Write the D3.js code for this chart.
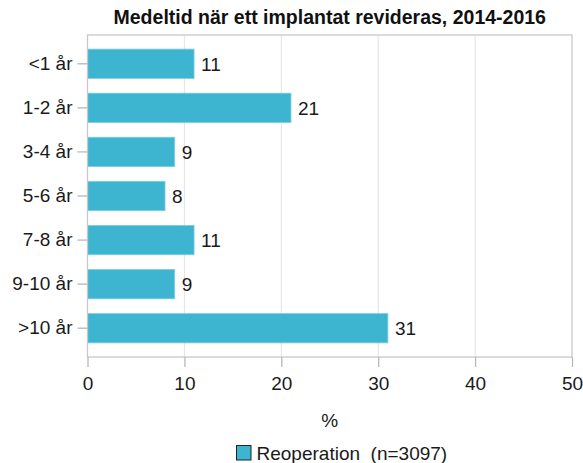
<!DOCTYPE html>
<html><head><meta charset="utf-8">
<script src="https://cdn.jsdelivr.net/npm/d3@7"></script>
<style>body{margin:0;background:#fff}svg{font-family:Arial,"Liberation Sans",sans-serif}</style>
</head><body><svg id="c" width="583" height="463"></svg>
<script>
const categories = ["<1 år","1-2 år","3-4 år","5-6 år","7-8 år","9-10 år",">10 år"];
const values = [11,21,9,8,11,9,31];
const xTicks = [0,10,20,30,40,50];
const title = "Medeltid när ett implantat revideras, 2014-2016";
const xLabel = "%";
const legendLabel = "Reoperation  (n=3097)";

const svg = d3.select("#c");
const L=87.5, R=572, T=35, B=357;
const FS = 19;
const FF = "Arial,'Liberation Sans',sans-serif";
const x = d3.scaleLinear().domain([0,50]).range([L,R]);
const y = d3.scaleBand().domain(categories).range([T,B]).paddingInner(0.333).paddingOuter(0.32);
const barColor = "#3db5d0";

// gridlines
svg.append("g").selectAll("line").data(xTicks.slice(1,-1)).join("line")
  .attr("x1",d=>x(d)).attr("x2",d=>x(d)).attr("y1",T).attr("y2",B)
  .attr("stroke","#e3e3e3").attr("stroke-width",1);

// bars
svg.append("g").selectAll("rect").data(values).join("rect")
  .attr("x",x(0)).attr("y",(d,i)=>y(categories[i]))
  .attr("width",d=>x(d)-x(0)).attr("height",y.bandwidth())
  .attr("fill",barColor).attr("stroke","#7fd0e2").attr("stroke-width",0.8);

// value labels
svg.append("g").selectAll("text").data(values).join("text")
  .attr("x",d=>x(d)+7).attr("y",(d,i)=>y(categories[i])+y.bandwidth()/2)
  .attr("dy","0.36em").attr("font-size",FS).attr("fill","#1a1a1a").text(d=>d);

// frame
svg.append("rect").attr("x",L).attr("y",T).attr("width",R-L).attr("height",B-T)
  .attr("fill","none").attr("stroke","#c8c8c8").attr("stroke-width",1.3);

// x axis
const xa = svg.append("g").attr("transform",`translate(0,${B})`)
  .call(d3.axisBottom(x).tickValues(xTicks).tickSize(10).tickPadding(10));
xa.select(".domain").remove();
xa.selectAll("line").attr("stroke","#b8b8b8").attr("stroke-width",1.3);
xa.selectAll("text").attr("font-size",FS).attr("fill","#1a1a1a").attr("font-family",FF);

// y axis
const ya = svg.append("g").attr("transform",`translate(${L},0)`)
  .call(d3.axisLeft(y).tickSize(10).tickPadding(5));
ya.select(".domain").remove();
ya.selectAll("line").attr("stroke","#b8b8b8").attr("stroke-width",1.3);
ya.selectAll("text").attr("font-size",FS).attr("fill","#1a1a1a").attr("font-family",FF);

// title
svg.append("text").attr("x",(L+R)/2).attr("y",24).attr("text-anchor","middle")
  .attr("font-size",19.5).attr("font-weight","bold").attr("fill","#111").text(title);

// x label
svg.append("text").attr("x",(L+R)/2).attr("y",427).attr("text-anchor","middle")
  .attr("font-size",FS).attr("fill","#1a1a1a").text(xLabel);

// legend
const lg = svg.append("g");
lg.append("rect").attr("x",236.5).attr("y",445.5).attr("width",14.5).attr("height",14.5)
  .attr("fill",barColor).attr("stroke","#222").attr("stroke-width",1);
lg.append("text").attr("x",256.5).attr("y",460).attr("font-size",FS).attr("fill","#1a1a1a")
  .attr("xml:space","preserve").style("white-space","pre").text(legendLabel);
</script></body></html>
